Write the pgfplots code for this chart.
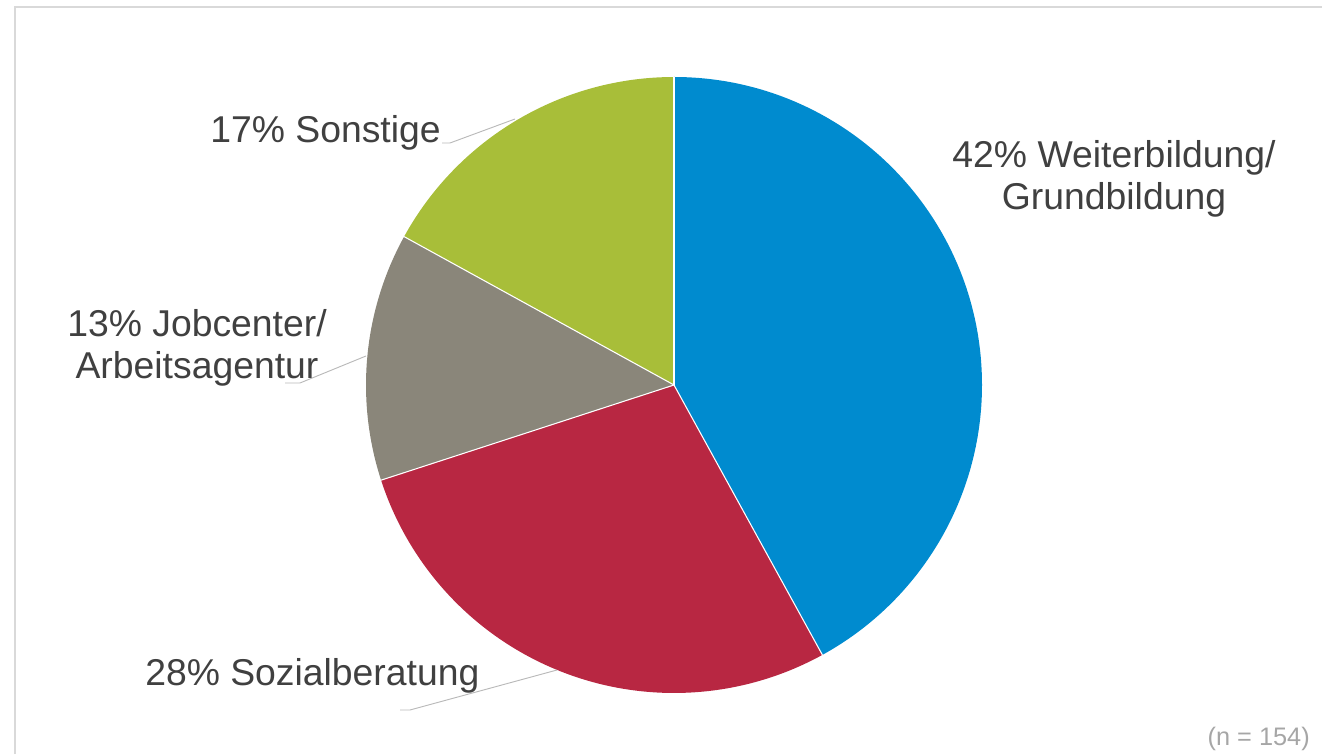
\documentclass[border=0pt]{standalone}
\usepackage{pgfplots}
\pgfplotsset{compat=1.18}
\usepackage{fontspec}
\setmainfont{Liberation Sans}
\definecolor{cblue}{RGB}{0,139,207}
\definecolor{cred}{RGB}{184,39,66}
\definecolor{cgray}{RGB}{138,134,122}
\definecolor{cgreen}{RGB}{168,190,57}
\definecolor{txtgray}{RGB}{64,64,64}
\definecolor{leadgray}{RGB}{185,185,185}
\definecolor{framegray}{RGB}{217,217,217}
\definecolor{ngray}{RGB}{166,166,166}
% shares in percent (n = 154)
\def\vA{42}% Weiterbildung/Grundbildung
\def\vB{28}% Sozialberatung
\def\vC{13}% Jobcenter/Arbeitsagentur
\def\vD{17}% Sonstige
\begin{document}%
\begin{tikzpicture}
\pgfmathsetmacro{\angA}{90}
\pgfmathsetmacro{\angB}{\angA-3.6*\vA}
\pgfmathsetmacro{\angC}{\angB-3.6*\vB}
\pgfmathsetmacro{\angD}{\angC-3.6*\vC}
\pgfmathsetmacro{\angE}{\angD-3.6*\vD}
\begin{axis}[scale only axis, width=991.5pt, height=565.5pt,
  xmin=0, xmax=1322, ymin=0, ymax=754, axis lines=none, ticks=none, clip=false]
% frame
\draw[framegray, line width=1.5pt] (axis cs:15,0) -- (axis cs:15,747) -- (axis cs:1322,747);
% slices
\fill[cblue]  (axis cs:674,369) -- ++(\angA:231pt) arc[start angle=\angA, end angle=\angB, radius=231pt] -- cycle;
\fill[cred]   (axis cs:674,369) -- ++(\angB:231pt) arc[start angle=\angB, end angle=\angC, radius=231pt] -- cycle;
\fill[cgray]  (axis cs:674,369) -- ++(\angC:231pt) arc[start angle=\angC, end angle=\angD, radius=231pt] -- cycle;
\fill[cgreen] (axis cs:674,369) -- ++(\angD:231pt) arc[start angle=\angD, end angle=\angE, radius=231pt] -- cycle;
\draw[white, line width=0.8pt] (axis cs:674,369) -- ++(\angA:231pt);
\draw[white, line width=0.8pt] (axis cs:674,369) -- ++(\angB:231pt);
\draw[white, line width=0.8pt] (axis cs:674,369) -- ++(\angC:231pt);
\draw[white, line width=0.8pt] (axis cs:674,369) -- ++(\angD:231pt);
% leader lines
\draw[leadgray, line width=0.7pt] (axis cs:442,611) -- (axis cs:450,611) -- (axis cs:515,635);
\draw[leadgray, line width=0.7pt] (axis cs:285,371) -- (axis cs:300,371) -- (axis cs:366,398);
\draw[leadgray, line width=0.7pt] (axis cs:400,44) -- (axis cs:410,44) -- (axis cs:557,84);
% labels
\node[txtgray, font=\fontsize{28}{31.5}\selectfont, align=center] at (axis cs:1114,575) {42\% Weiterbildung/\\Grundbildung};
\node[txtgray, font=\fontsize{28}{31.5}\selectfont, anchor=base east, inner sep=0pt] at (axis cs:441,611) {17\% Sonstige};
\node[txtgray, font=\fontsize{28}{31.5}\selectfont, align=center] at (axis cs:197,406) {13\% Jobcenter/\\Arbeitsagentur};
\node[txtgray, font=\fontsize{28}{31.5}\selectfont, anchor=base west, inner sep=0pt] at (axis cs:145,69) {28\% Sozialberatung};
\node[ngray, font=\fontsize{19}{22}\selectfont, anchor=base east, inner sep=0pt] at (axis cs:1310,8) {(n = 154)};
\end{axis}
\pgfresetboundingbox
\useasboundingbox (current axis.south west) rectangle (current axis.north east);
\end{tikzpicture}%
\end{document}
